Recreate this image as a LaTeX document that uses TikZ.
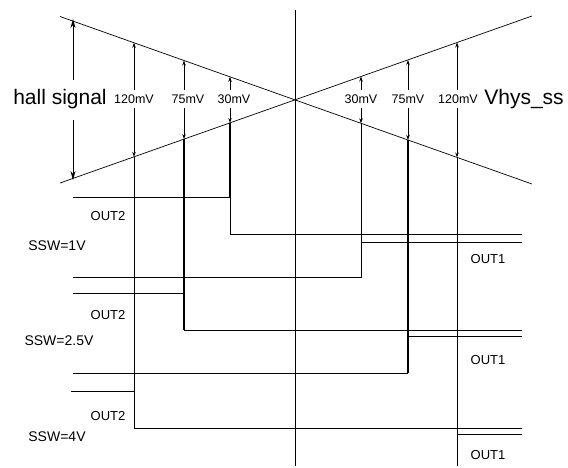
\documentclass[tikz,border=0pt]{standalone}
\usepackage{fontspec}
\setmainfont{Liberation Sans}
\usetikzlibrary{arrows.meta}
\begin{document}
\begin{tikzpicture}[x=1pt,y=-1pt,
  ln/.style={line width=0.7pt},
  tk/.style={line width=1.1pt},
  arr/.style={line width=0.7pt,-{Stealth[length=5pt,width=3.5pt]}},
  big/.style={line width=0.9pt,-{Stealth[length=9pt,width=5pt]}},
  mv/.style={font=\fontsize{12.5}{14}\selectfont, inner sep=0pt},
  lab/.style={font=\fontsize{13}{15}\selectfont, inner sep=0pt},
  ssw/.style={font=\fontsize{14}{16}\selectfont, inner sep=0pt},
  hs/.style={font=\fontsize{21}{24}\selectfont, inner sep=0pt}]
\useasboundingbox (0,0) rectangle (568,468);
% main lines
\coordinate (D1) at (60,16.5); \coordinate (D2) at (532,184);
\coordinate (R1) at (60,183); \coordinate (R2) at (532,16);
\coordinate (C1) at (295,10); \coordinate (C2) at (295,466);
\draw[ln] (D1) -- (D2);
\draw[ln] (R1) -- (R2);
\draw[ln] (C1) -- (C2);
% hall signal
\node[hs] (hs) at (60,99) {hall signal};
\coordinate (hsT) at (73,19); \coordinate (hsB) at (73,180);
\coordinate (hsM1) at (73,80); \coordinate (hsM2) at (73,120);
\draw[big] (hsM1) -- (hsT);
\draw[big] (hsM2) -- (hsB);
\node[hs] (vh) at (524,99) {Vhys\_ss};
% mV labels
\node[mv] (l120) at (134,99) {120mV};
\node[mv] (l75) at (188,99) {75mV};
\node[mv] (l30) at (234,99) {30mV};
\node[mv] (r30) at (361,99) {30mV};
\node[mv] (r75) at (408,99) {75mV};
\node[mv] (r120) at (458,99) {120mV};
% arrow coordinates
\foreach \n/\x/\u/\d in {a/134/42.8/156.8, b/184/60.5/139.1, c/230/76.8/122.9,
                         e/361/76.5/123.3, f/408/59.9/140.0, g/457/42.5/157.4}{
  \coordinate (\n t1) at (\x,90);
  \coordinate (\n t2) at (\x,108);
  \coordinate (\n u) at (\x,\u);
  \coordinate (\n d) at (\x,\d);
  \draw[arr] (\n t1) -- (\n u);
  \draw[arr] (\n t2) -- (\n d);
}
% SSW=1V
\coordinate (p1) at (73,197); \coordinate (p2) at (230,197);
\coordinate (p3) at (230,234); \coordinate (p4) at (522,234);
\draw[ln] (p1) -- (p2) -- (p3) -- (p4);
\draw[tk] (cd) -- (p2);
\coordinate (q1) at (73,277); \coordinate (q2) at (361,277);
\coordinate (q3) at (361,242); \coordinate (q4) at (522,242);
\draw[ln] (q1) -- (q2) -- (q3) -- (q4);
\draw[ln] (ed) -- (q3);
% SSW=2.5V
\coordinate (s1) at (73,293); \coordinate (s2) at (184,293);
\coordinate (s3) at (184,330); \coordinate (s4) at (522,330);
\draw[ln] (s1) -- (s2);
\draw[ln] (s3) -- (s4);
\draw[tk] (bd) -- (s3);
\coordinate (t1) at (73,373); \coordinate (t2) at (408,373);
\coordinate (t3) at (408,336); \coordinate (t4) at (522,336);
\draw[ln] (t1) -- (t2);
\draw[ln] (t3) -- (t4);
\draw[tk] (fd) -- (t2);
% SSW=4V
\coordinate (v1) at (71,391); \coordinate (v2) at (134,391);
\coordinate (v3) at (134,428); \coordinate (v4) at (522,428);
\draw[ln] (v1) -- (v2);
\draw[ln] (v3) -- (v4);
\draw[ln] (ad) -- (v3);
\coordinate (w1) at (457,434); \coordinate (w2) at (522,434);
\coordinate (w0) at (457,466);
\draw[ln] (w1) -- (w2);
\draw[ln] (gd) -- (w0);
% texts
\node[lab] (o21) at (108,216) {OUT2};
\node[lab] (o22) at (108,315) {OUT2};
\node[lab] (o23) at (108,416) {OUT2};
\node[ssw] (sw1) at (57,246) {SSW=1V};
\node[ssw] (sw2) at (59,341) {SSW=2.5V};
\node[ssw] (sw3) at (57,437) {SSW=4V};
\node[lab] (o11) at (488,259) {OUT1};
\node[lab] (o12) at (488,360) {OUT1};
\node[lab] (o13) at (488,455) {OUT1};
\end{tikzpicture}
\end{document}
